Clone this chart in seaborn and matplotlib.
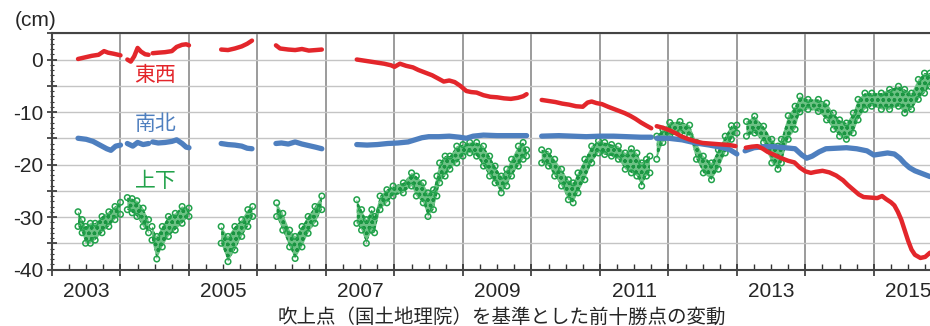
import numpy as np
import pandas as pd
import matplotlib
matplotlib.use("Agg")
import matplotlib.pyplot as plt
import matplotlib.ticker as mticker
import seaborn as sns

nan = np.nan

# 東西 (east-west) displacement, cm. NaN = data gap
ew_year = [2003.38, 2003.48, 2003.58, 2003.68, 2003.76, 2003.82, 2003.90, 2004.00, nan,
           2004.10, 2004.15, 2004.20, 2004.25, 2004.30, 2004.36, 2004.41, nan,
           2004.47, 2004.55, 2004.65, 2004.75, 2004.82, 2004.90, 2004.96, 2005.00, nan,
           2005.47, 2005.57, 2005.67, 2005.77, 2005.85, 2005.92, nan,
           2006.27, 2006.33, 2006.45, 2006.55, 2006.65, 2006.75, 2006.85, 2006.94, nan,
           2007.45, 2007.55, 2007.65, 2007.75, 2007.85, 2007.95, 2008.00, 2008.08, 2008.17,
           2008.27, 2008.35, 2008.45, 2008.55, 2008.65, 2008.72, 2008.80, 2008.88, 2008.96,
           2009.05, 2009.12, 2009.20, 2009.30, 2009.40, 2009.50, 2009.60, 2009.70, 2009.80,
           2009.88, 2009.93, nan,
           2010.15, 2010.25, 2010.35, 2010.45, 2010.55, 2010.65, 2010.75, 2010.82, 2010.88,
           2010.95, 2011.03, 2011.12, 2011.20, 2011.28, 2011.36, 2011.44, 2011.52, 2011.60,
           2011.68, 2011.75, nan,
           2011.83, 2011.92, 2012.02, 2012.10, 2012.20, 2012.30, 2012.40, 2012.50, 2012.60,
           2012.70, 2012.80, 2012.90, 2012.98, nan,
           2013.13, 2013.22, 2013.30, 2013.38, 2013.45, 2013.55, 2013.65, 2013.75, 2013.84,
           2013.92, 2014.00, 2014.08, 2014.15, 2014.25, 2014.35, 2014.45, 2014.55, 2014.62,
           2014.70, 2014.78, 2014.85, 2014.95, 2015.05, 2015.12, 2015.18, 2015.25, 2015.30,
           2015.35, 2015.40, 2015.45, 2015.50, 2015.55, 2015.60, 2015.68, 2015.75, 2015.82]
ew_cm = [0.1, 0.4, 0.7, 0.9, 1.6, 1.3, 1.1, 0.8, nan,
         0.0, -0.4, 0.6, 2.2, 1.5, 1.0, 0.9, nan,
         1.2, 1.3, 1.4, 1.6, 2.4, 2.8, 2.9, 2.7, nan,
         1.9, 1.8, 2.1, 2.5, 3.0, 3.6, nan,
         2.7, 2.1, 1.9, 1.8, 2.0, 1.7, 1.8, 1.9, nan,
         0.0, -0.2, -0.4, -0.6, -0.8, -1.1, -1.4, -0.8, -1.2,
         -1.5, -2.0, -2.5, -3.0, -3.7, -4.2, -4.0, -4.3, -5.0,
         -6.0, -6.2, -6.3, -6.8, -7.1, -7.2, -7.4, -7.5, -7.3,
         -7.0, -6.6, nan,
         -7.7, -7.9, -8.1, -8.4, -8.6, -8.9, -9.0, -8.2, -8.0,
         -8.3, -8.5, -9.0, -9.4, -9.8, -10.2, -10.7, -11.3, -12.0,
         -12.6, -13.1, nan,
         -12.7, -13.0, -13.5, -14.0, -14.7, -15.2, -15.6, -15.9, -16.0,
         -16.1, -16.2, -16.3, -16.5, nan,
         -16.8, -16.6, -16.5, -17.0, -17.6, -18.2, -18.8, -19.3, -19.6,
         -20.6, -21.3, -21.6, -21.4, -21.2, -21.5, -22.1, -23.0, -23.9,
         -24.8, -25.7, -26.2, -26.3, -26.4, -26.0, -26.6, -27.2, -27.8,
         -29.0, -30.5, -32.5, -34.5, -36.2, -37.2, -37.8, -37.6, -36.8]

# 南北 (north-south)
ns_year = [2003.38, 2003.50, 2003.60, 2003.70, 2003.80, 2003.86, 2003.93, 2004.00, nan,
           2004.10, 2004.18, 2004.25, 2004.33, 2004.41, nan,
           2004.47, 2004.55, 2004.65, 2004.75, 2004.82, 2004.90, 2004.96, 2005.00, nan,
           2005.47, 2005.57, 2005.67, 2005.77, 2005.85, 2005.92, nan,
           2006.27, 2006.35, 2006.45, 2006.55, 2006.65, 2006.75, 2006.85, 2006.94, nan,
           2007.45, 2007.60, 2007.75, 2007.90, 2008.05, 2008.20, 2008.30, 2008.40, 2008.50,
           2008.65, 2008.80, 2008.95, 2009.05, 2009.15, 2009.30, 2009.50, 2009.70, 2009.93, nan,
           2010.15, 2010.40, 2010.60, 2010.80, 2011.00, 2011.20, 2011.40, 2011.60, 2011.75, nan,
           2011.83, 2012.00, 2012.20, 2012.40, 2012.60, 2012.80, 2012.90, 2013.00, nan,
           2013.12, 2013.25, 2013.40, 2013.55, 2013.70, 2013.85, 2013.95, 2014.02, 2014.10,
           2014.20, 2014.30, 2014.45, 2014.60, 2014.75, 2014.90, 2015.00, 2015.10, 2015.20,
           2015.30, 2015.38, 2015.45, 2015.52, 2015.60, 2015.70, 2015.82]
ns_cm = [-15.0, -15.2, -15.6, -16.3, -17.0, -17.3, -16.5, -16.3, nan,
         -16.0, -16.5, -15.8, -16.2, -16.0, nan,
         -15.7, -15.9, -15.8, -15.6, -15.3, -16.0, -16.7, -16.8, nan,
         -16.0, -16.2, -16.3, -16.5, -16.9, -17.0, nan,
         -16.0, -15.9, -16.1, -15.7, -16.1, -16.4, -16.7, -17.0, nan,
         -16.2, -16.3, -16.2, -16.0, -15.9, -15.7, -15.3, -14.9, -14.7,
         -14.7, -14.6, -14.8, -15.0, -14.6, -14.4, -14.5, -14.5, -14.5, nan,
         -14.6, -14.5, -14.6, -14.7, -14.6, -14.6, -14.7, -14.8, -14.8, nan,
         -15.0, -15.0, -15.3, -15.9, -16.3, -16.8, -17.2, -18.0, nan,
         -17.4, -16.8, -16.6, -16.6, -16.8, -17.0, -18.2, -18.8, -18.4,
         -17.6, -17.0, -16.9, -16.8, -17.0, -17.4, -18.2, -18.0, -17.8,
         -18.0, -18.8, -19.8, -20.6, -21.2, -21.7, -22.3]

# 上下 (up-down): upper and lower edge of the point cloud
ud_year = [2003.38, 2003.44, 2003.49, 2003.56, 2003.63, 2003.73, 2003.83, 2003.92, 2004.00, nan,
           2004.10, 2004.17, 2004.24, 2004.33, 2004.41, nan,
           2004.46, 2004.53, 2004.61, 2004.70, 2004.80, 2004.90, 2005.00, nan,
           2005.47, 2005.57, 2005.67, 2005.77, 2005.86, 2005.93, nan,
           2006.28, 2006.37, 2006.47, 2006.55, 2006.65, 2006.74, 2006.84, 2006.94, nan,
           2007.45, 2007.52, 2007.59, 2007.67, 2007.71, 2007.79, 2007.89, 2007.98, 2008.13,
           2008.25, 2008.32, 2008.42, 2008.49, 2008.57, 2008.62, 2008.66, 2008.74, 2008.81,
           2008.91, 2009.00, 2009.10, 2009.20, 2009.30, 2009.39, 2009.47, 2009.56, 2009.64,
           2009.71, 2009.81, 2009.88, 2009.93, nan,
           2010.15, 2010.25, 2010.34, 2010.44, 2010.54, 2010.61, 2010.68, 2010.78, 2010.88,
           2010.98, 2011.07, 2011.17, 2011.27, 2011.37, 2011.46, 2011.54, 2011.61, 2011.68,
           2011.73, nan,
           2011.83, 2011.92, 2012.02, 2012.17, 2012.31, 2012.41, 2012.51, 2012.63, 2012.73,
           2012.83, 2012.92, 2013.00, nan,
           2013.14, 2013.26, 2013.39, 2013.51, 2013.60, 2013.65, 2013.75, 2013.85, 2013.92,
           2014.04, 2014.19, 2014.31, 2014.41, 2014.50, 2014.60, 2014.70, 2014.77, 2014.87,
           2014.97, 2015.11, 2015.23, 2015.36, 2015.45, 2015.55, 2015.65, 2015.74, 2015.82]
ud_top = [-29.0, -30.5, -31.8, -31.2, -31.2, -29.9, -29.0, -28.0, -27.2, nan,
          -26.3, -26.5, -26.9, -28.3, -30.5, nan,
          -31.8, -33.7, -31.8, -29.9, -29.3, -28.0, -28.3, nan,
          -31.8, -33.7, -31.8, -30.5, -28.6, -28.0, nan,
          -27.3, -29.3, -32.5, -33.7, -31.8, -29.9, -28.0, -26.0, nan,
          -26.7, -28.6, -30.5, -28.6, -29.9, -26.0, -24.8, -24.1, -23.5,
          -21.6, -22.2, -23.5, -25.4, -24.8, -22.2, -19.7, -18.4, -18.4,
          -16.5, -16.2, -15.8, -15.8, -16.5, -18.4, -20.3, -22.2, -20.9,
          -19.0, -16.5, -15.8, -17.2, nan,
          -17.2, -17.5, -19.0, -20.9, -22.9, -23.5, -21.6, -19.0, -16.5,
          -15.5, -15.8, -16.2, -16.5, -17.8, -17.0, -17.8, -19.7, -19.0,
          -18.4, nan,
          -14.6, -13.3, -12.0, -11.8, -12.5, -15.8, -18.4, -19.7, -17.2,
          -14.6, -12.6, -12.5, nan,
          -11.8, -10.8, -12.7, -15.2, -16.5, -15.2, -10.7, -8.9, -7.0,
          -7.6, -7.6, -8.3, -10.2, -11.5, -12.1, -10.2, -7.6, -6.4,
          -6.4, -6.4, -5.7, -5.1, -5.7, -6.4, -3.8, -2.6, -2.6]
ud_bottom = [-31.8, -33.0, -35.0, -35.0, -34.4, -33.0, -31.8, -30.5, -29.5, nan,
             -28.6, -29.2, -29.9, -31.8, -33.0, nan,
             -34.4, -38.0, -35.7, -33.7, -32.5, -31.2, -29.9, nan,
             -35.0, -38.5, -36.3, -33.7, -31.8, -29.9, nan,
             -29.9, -32.5, -35.7, -37.9, -35.7, -33.1, -31.2, -28.6, nan,
             -31.2, -32.5, -35.0, -32.5, -33.0, -28.6, -27.3, -26.0, -25.4,
             -24.1, -26.0, -27.3, -29.9, -28.6, -26.0, -23.5, -22.2, -20.9,
             -19.7, -18.4, -17.8, -18.4, -20.3, -22.2, -23.5, -25.4, -24.1,
             -22.2, -20.3, -19.0, -18.4, nan,
             -19.7, -20.3, -22.2, -24.1, -26.7, -27.3, -25.4, -22.9, -19.7,
             -17.8, -18.1, -18.4, -19.0, -20.9, -21.6, -22.2, -24.1, -22.2,
             -21.6, nan,
             -19.0, -15.8, -14.6, -13.9, -14.6, -19.0, -21.6, -22.9, -20.9,
             -17.8, -15.2, -14.0, nan,
             -14.6, -14.0, -15.8, -19.7, -20.9, -19.7, -15.2, -13.3, -10.0,
             -9.5, -9.9, -11.5, -13.3, -14.6, -15.2, -14.0, -11.5, -9.5,
             -8.9, -9.5, -9.5, -8.9, -10.2, -9.5, -7.6, -6.4, -5.1]

series_names = ["東西", "南北", "上下"]
labelled_years = [2003, 2005, 2007, 2009, 2011, 2013, 2015]
caption = "吹上点（国土地理院）を基準とした前十勝点の変動"

RED = "#e3262b"
BLUE = "#4e7fbf"
GREEN = "#22a24b"


def segmented(years, *cols):
    df = pd.DataFrame({"year": years})
    for i, c in enumerate(cols):
        df[f"v{i}"] = c
    df["seg"] = df["year"].isna().cumsum()
    return df.dropna()


sns.set_theme(style="white")
plt.rcParams["font.family"] = ["Liberation Sans", "Noto Sans CJK JP", "DejaVu Sans"]
plt.rcParams["hatch.linewidth"] = 1.0

fig = plt.figure(figsize=(9.3, 3.26), dpi=100)
ax = fig.add_axes([52 / 930, 1 - 269.5 / 326, 878 / 930, (269.5 - 33) / 326])

# up-down cloud
ud = segmented(ud_year, ud_top, ud_bottom)
for _, g in ud.groupby("seg"):
    ax.fill_between(g["year"], g["v0"], g["v1"], facecolor="#6cc184",
                    edgecolor="#1a9441", hatch="ooo", linewidth=0, zorder=2)
ud_long = pd.concat([ud[["year", "v0"]].rename(columns={"v0": "cm"}),
                     ud[["year", "v1"]].rename(columns={"v1": "cm"})])
sns.scatterplot(data=ud_long, x="year", y="cm", ax=ax, marker="o", s=16,
                facecolor="none", edgecolor=GREEN, linewidth=1.1, zorder=3)

# north-south and east-west bands
ns = segmented(ns_year, ns_cm)
sns.lineplot(data=ns, x="year", y="v0", units="seg", estimator=None, ax=ax,
             color=BLUE, linewidth=3.8, zorder=4)
ew = segmented(ew_year, ew_cm)
sns.lineplot(data=ew, x="year", y="v0", units="seg", estimator=None, ax=ax,
             color=RED, linewidth=3.2, zorder=5)

ax.set_xlim(2003, 2015.82)
ax.set_ylim(-40, 5.05)
ax.set_xlabel("")
ax.set_ylabel("")

ax.xaxis.set_major_locator(mticker.MultipleLocator(1))
ax.xaxis.set_major_formatter(mticker.NullFormatter())
ax.xaxis.set_minor_locator(mticker.MultipleLocator(0.25))
ax.xaxis.set_minor_formatter(mticker.FuncFormatter(
    lambda v, p: str(int(v)) if abs(v - int(v) - 0.5) < 1e-6 and int(v) in labelled_years else ""))
ax.yaxis.set_major_locator(mticker.MultipleLocator(5))
ax.yaxis.set_major_formatter(mticker.FuncFormatter(
    lambda v, p: f"{int(round(v))}" if round(v) % 10 == 0 else ""))
ax.yaxis.set_minor_locator(mticker.MultipleLocator(1))

ax.tick_params(axis="x", which="major", direction="inout", length=8, width=1.2,
               color="#333333", bottom=True)
ax.tick_params(axis="x", which="minor", direction="in", length=4, width=1.0,
               color="#333333", labelsize=15, pad=9, bottom=True)
ax.tick_params(axis="y", which="major", direction="inout", length=7, width=1.2,
               color="#333333", labelsize=15, pad=3, left=True)
ax.tick_params(axis="y", which="minor", direction="inout", length=3.5, width=0.8,
               color="#333333", left=True)

ax.grid(axis="x", which="major", color="#808080", linewidth=1.1)
ax.grid(axis="y", which="major", color="#c4c4c4", linewidth=1.0)
ax.set_axisbelow(True)

for side in ["left", "bottom", "top"]:
    ax.spines[side].set_color("#444444")
    ax.spines[side].set_linewidth(1.5)
ax.spines["right"].set_visible(False)

for name, color, y in zip(series_names, [RED, BLUE, GREEN], [-3.0, -12.3, -23.3]):
    ax.text(2004.51, y, name, color=color, ha="center", va="center", fontsize=15)

fig.text(15 / 930, 1 - 21 / 326, "(cm)", ha="left", va="center", fontsize=15)
fig.text(502 / 930, 1 - 317 / 326, caption, ha="center", va="center", fontsize=14)

fig.savefig("out.png", dpi=100)
